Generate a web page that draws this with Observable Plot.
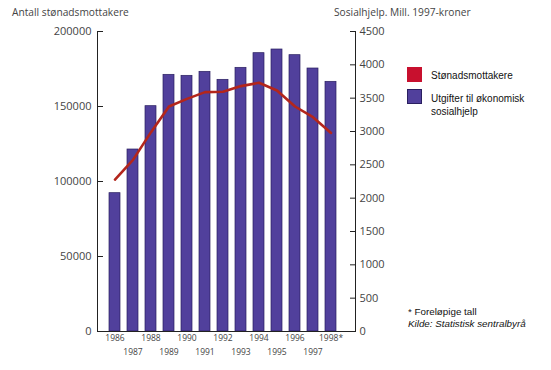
<!DOCTYPE html>
<html><head><meta charset="utf-8">
<script src="https://cdn.jsdelivr.net/npm/d3@7"></script>
<script src="https://cdn.jsdelivr.net/npm/@observablehq/plot@0.6"></script>
<style>
body{margin:0;background:#fff;}
#wrap{position:relative;width:551px;height:370px;overflow:hidden;}
#chart{position:absolute;left:0;top:0;}
.t{position:absolute;white-space:nowrap;font-family:"Open Sans",sans-serif;font-size:10.2px;color:#444;}
.lg{position:absolute;font-family:"Liberation Sans",Arial,sans-serif;font-size:10px;color:#111;line-height:13px;}
.sw{position:absolute;width:15px;height:15px;box-sizing:border-box;}
.fn{position:absolute;font-family:"Liberation Sans",Arial,sans-serif;font-size:9.8px;color:#111;white-space:nowrap;}
</style></head>
<body><div id="wrap">
<div class="t" style="left:12px;top:5px">Antall stønadsmottakere</div>
<div class="t" style="left:334px;top:5px">Sosialhjelp. Mill. 1997-kroner</div>
<div id="chart"></div>
<div class="sw" style="left:407px;top:67px;background:#c8102e"></div>
<div class="lg" style="left:431px;top:69px">Stønadsmottakere</div>
<div class="sw" style="left:407px;top:89px;background:#51409c;border:1px solid #2a1f60"></div>
<div class="lg" style="left:431px;top:92px">Utgifter til økonomisk<br>sosialhjelp</div>
<div class="fn" style="left:408px;top:306px">* Foreløpige tall</div>
<div class="fn" style="left:408px;top:318px;font-style:italic">Kilde: Statistisk sentralbyrå</div>
</div>
<script>
const years = ["1986","1987","1988","1989","1990","1991","1992","1993","1994","1995","1996","1997","1998*"];
const stonadsmottakere = [101300,114400,132900,150000,155100,159600,159800,163600,165800,160700,150000,142900,132400];
const utgifter = [2075,2730,3380,3850,3835,3895,3775,3955,4175,4230,4145,3945,3745];
const leftTicks = [0,50000,100000,150000,200000];
const rightTicks = [0,500,1000,1500,2000,2500,3000,3500,4000,4500];

const leftMax = 200000, rightMax = 4500;
const toLeft = v => v * leftMax / rightMax;
const data = years.map((y, i) => ({year: y, mott: stonadsmottakere[i], utg: utgifter[i]}));

const chart = Plot.plot({
  width: 551, height: 370,
  marginLeft: 97, marginRight: 196, marginTop: 31, marginBottom: 39,
  style: {fontFamily: "Open Sans, sans-serif", fontSize: "11px", color: "#444", background: "transparent"},
  x: {type: "band", domain: years, range: [105, 339], paddingInner: 0.4, paddingOuter: 0.2, label: null},
  y: {domain: [0, leftMax], label: null},
  marks: [
    Plot.barY(data, {x: "year", y: d => toLeft(d.utg), fill: "#51409c", stroke: "#2a1f60", strokeWidth: 0.7}),
    Plot.line(data, {x: "year", y: "mott", stroke: "#b3261c", strokeWidth: 2.6, curve: "linear"}),
    Plot.frame({anchor: "left", stroke: "#222"}),
    Plot.frame({anchor: "right", stroke: "#222"}),
    Plot.frame({anchor: "bottom", stroke: "#222"}),
    Plot.axisY({anchor: "left", ticks: leftTicks, tickSize: -6, tickPadding: 12, tickFormat: d => String(d), label: null, stroke: "#222"}),
    Plot.axisY({anchor: "right", ticks: rightTicks.map(toLeft), tickSize: -6, tickPadding: 10, tickFormat: d => String(Math.round(d * rightMax / leftMax)), label: null, stroke: "#222"}),
    Plot.axisX({ticks: years.filter((d, i) => i % 2 === 0), tickSize: 0, tickPadding: 3, fontSize: 8.5, label: null}),
    Plot.axisX({ticks: years.filter((d, i) => i % 2 === 1), tickSize: 0, tickPadding: 17, fontSize: 8.5, label: null})
  ]
});
document.getElementById("chart").appendChild(chart);
</script>
</body></html>
